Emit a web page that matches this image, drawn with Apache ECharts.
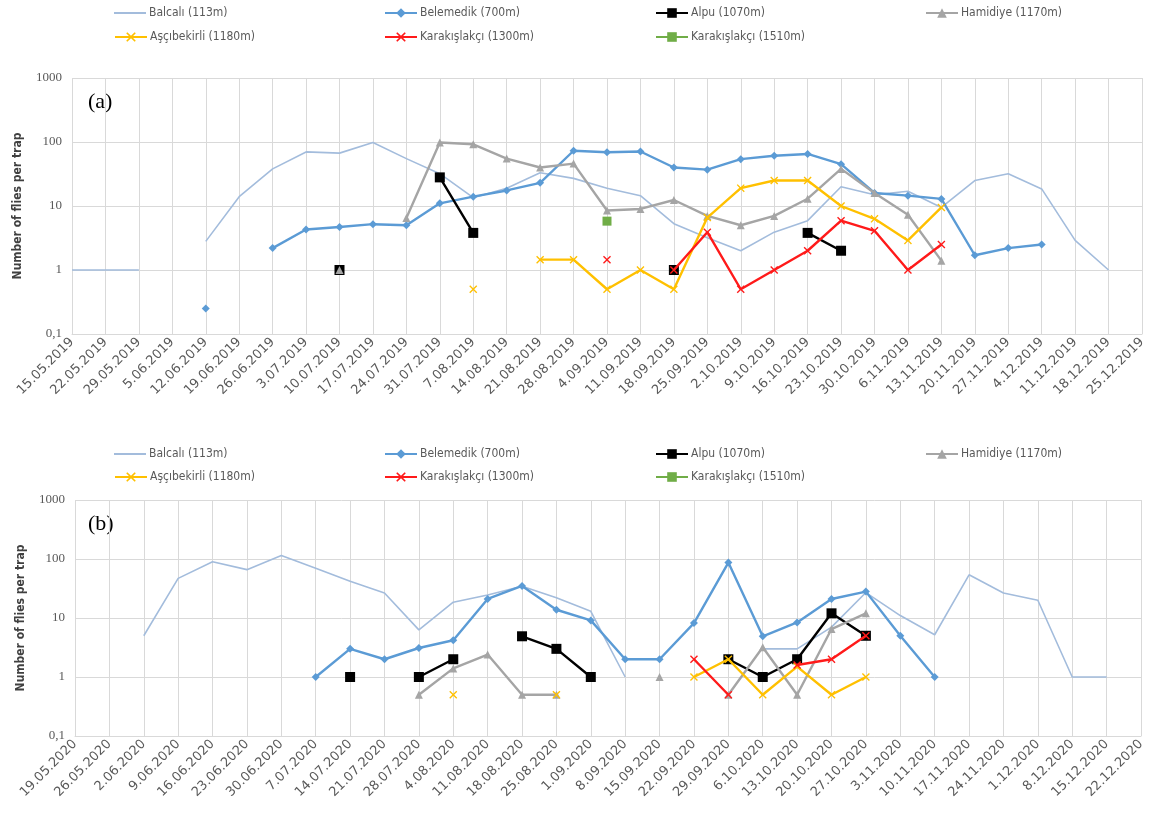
<!DOCTYPE html>
<html>
<head>
<meta charset="utf-8">
<script src="https://cdn.jsdelivr.net/npm/echarts@6/dist/echarts.min.js"></script>
<style>
html,body{margin:0;padding:0;background:#fff;}
#chart{width:1150px;height:814px;}
</style>
</head>
<body>
<div id="chart"></div>
<script>
// ---------- categories ----------
const dates2019 = ['15.05.2019','22.05.2019','29.05.2019','5.06.2019','12.06.2019','19.06.2019','26.06.2019','3.07.2019','10.07.2019','17.07.2019','24.07.2019','31.07.2019','7.08.2019','14.08.2019','21.08.2019','28.08.2019','4.09.2019','11.09.2019','18.09.2019','25.09.2019','2.10.2019','9.10.2019','16.10.2019','23.10.2019','30.10.2019','6.11.2019','13.11.2019','20.11.2019','27.11.2019','4.12.2019','11.12.2019','18.12.2019','25.12.2019'];
const dates2020 = ['19.05.2020','26.05.2020','2.06.2020','9.06.2020','16.06.2020','23.06.2020','30.06.2020','7.07.2020','14.07.2020','21.07.2020','28.07.2020','4.08.2020','11.08.2020','18.08.2020','25.08.2020','1.09.2020','8.09.2020','15.09.2020','22.09.2020','29.09.2020','6.10.2020','13.10.2020','20.10.2020','27.10.2020','3.11.2020','10.11.2020','17.11.2020','24.11.2020','1.12.2020','8.12.2020','15.12.2020','22.12.2020'];

// ---------- series names ----------
const seriesNames = ['Balcalı (113m)','Belemedik (700m)','Alpu (1070m)','Hamidiye (1170m)','Aşçıbekirli (1180m)','Karakışlakçı (1300m)','Karakışlakçı (1510m)'];

// ---------- 2019 values (panel a) ----------
const balcali2019 = [1,1,1,null,2.8,14,38,70,67,98,55,32,13.5,19,33,27,19,14.5,5.3,3.2,2,3.9,5.9,20,15,17,9.5,25,32,18.5,2.9,1,null];
const belemedik2019 = [null,null,null,null,0.25,null,2.2,4.3,4.7,5.2,5,11,14,17.5,23,73,69,71,40,37,54,61,65,45,16,14.5,12.9,1.7,2.2,2.5,null,null,null];
const alpu2019 = [null,null,null,null,null,null,null,null,1,null,null,28,3.8,null,null,null,null,null,1,null,null,null,3.8,2,null,null,null,null,null,null,null,null,null];
const hamidiye2019 = [null,null,null,null,null,null,null,null,1,null,6.5,98,92,55,40,46,8.5,9,12.4,7,5,7,13,38,16,7.3,1.4,null,null,null,null,null,null];
const ascibekirli2019 = [null,null,null,null,null,null,null,null,null,null,null,null,0.5,null,1.45,1.45,0.5,1,0.5,6.6,19,25,25,10,6.3,2.9,9.5,null,null,null,null,null,null];
const karakislakci1300_2019 = [null,null,null,null,null,null,null,null,null,null,null,null,null,null,null,null,1.45,null,1,3.9,0.5,1,2,5.9,4.1,1,2.5,null,null,null,null,null,null];
const karakislakci1510_2019 = [null,null,null,null,null,null,null,null,null,null,null,null,null,null,null,null,5.8,null,null,null,null,null,null,null,null,null,null,null,null,null,null,null,null];

// ---------- 2020 values (panel b) ----------
const balcali2020 = [null,null,5,47,90,66,115,70,42,26.5,6.3,18.5,24.5,34.5,22,13,1,null,null,null,3,3,7,27,11,5.2,54,26.5,20,1,1,null];
const belemedik2020 = [null,null,null,null,null,null,null,1,3,2,3.1,4.2,21,35,13.8,9.1,2,2,8.2,87,4.9,8.4,21,28,5,1,null,null,null,null,null,null];
const alpu2020 = [null,null,null,null,null,null,null,null,1,null,1,2,null,4.9,3,1,null,null,null,2,1,2,12,5,null,null,null,null,null,null,null,null];
const hamidiye2020 = [null,null,null,null,null,null,null,null,null,null,0.5,1.4,2.4,0.5,0.5,null,null,1,null,0.5,3.2,0.5,6.5,12,null,null,null,null,null,null,null,null];
const ascibekirli2020 = [null,null,null,null,null,null,null,null,null,null,null,0.5,null,null,0.5,null,null,null,1,2,0.5,1.5,0.5,1,null,null,null,null,null,null,null,null];
const karakislakci1300_2020 = [null,null,null,null,null,null,null,null,null,null,null,null,null,null,null,null,null,null,2,0.5,null,1.6,2,5,null,null,null,null,null,null,null,null];
const karakislakci1510_2020 = [null,null,null,null,null,null,null,null,null,null,null,null,null,null,null,null,null,null,null,null,null,null,null,null,null,null,null,null,null,null,null,null];

// ---------- y-axis ticks ----------
const yMin = 0.1, yMax = 1000;

// ---------- styles ----------
const xShape = 'path://M0,1.2 L1.2,0 L5,3.8 L8.8,0 L10,1.2 L6.2,5 L10,8.8 L8.8,10 L5,6.2 L1.2,10 L0,8.8 L3.8,5 Z';
const styles = [
  {color:'#A3BCDC', width:1.6, symbol:'none', size:0},
  {color:'#5B9BD5', width:2.4, symbol:'diamond', size:8},
  {color:'#000000', width:2.4, symbol:'rect', size:10},
  {color:'#A5A5A5', width:2.4, symbol:'triangle', size:8},
  {color:'#FFC000', width:2.4, symbol:xShape, size:8},
  {color:'#FF1A1A', width:2.4, symbol:xShape, size:8},
  {color:'#70AD47', width:2.4, symbol:'rect', size:9}
];
const data2019 = [balcali2019, belemedik2019, alpu2019, hamidiye2019, ascibekirli2019, karakislakci1300_2019, karakislakci1510_2019];
const data2020 = [balcali2020, belemedik2020, alpu2020, hamidiye2020, ascibekirli2020, karakislakci1300_2020, karakislakci1510_2020];

function makeSeries(i, data, ax) {
  const s = styles[i];
  return {
    type: 'line', name: seriesNames[i], data: data,
    xAxisIndex: ax, yAxisIndex: ax,
    connectNulls: false, showSymbol: s.symbol !== 'none', showAllSymbol: true,
    symbol: s.symbol, symbolSize: s.size,
    lineStyle: {color: s.color, width: s.width},
    itemStyle: {color: s.color},
    emphasis: {disabled: true},
    z: 2 + i
  };
}

const series = [];
data2019.forEach((d, i) => series.push(makeSeries(i, d, 0)));
data2020.forEach((d, i) => series.push(makeSeries(i, d, 1)));

// ---------- legends ----------
const colX = [114, 384, 655, 925];
function makeLegends(row1Y, row2Y) {
  const out = [];
  seriesNames.forEach((n, i) => {
    const col = i < 4 ? i : i - 4;
    const y = i < 4 ? row1Y : row2Y;
    const lineOnly = styles[i].symbol === 'none';
    out.push({
      data: [lineOnly ? {name: n, icon: 'rect'} : n],
      left: colX[col], top: y - 7, padding: 0,
      itemWidth: 32, itemHeight: lineOnly ? 2 : 12, itemGap: 4,
      textStyle: {fontFamily: "'Liberation Sans Narrow','DejaVu Sans Condensed',sans-serif", fontSize: 12, color: '#595959', padding: [0,0,0,-2]},
      selectedMode: false
    });
  });
  return out;
}

const gridColor = '#D9D9D9';
function xAxisOf(cats, gi) {
  return {
    type: 'category', gridIndex: gi, data: cats, boundaryGap: false,
    axisTick: {show: false},
    axisLine: {show: true, lineStyle: {color: gridColor}},
    splitLine: {show: true, interval: 0, lineStyle: {color: gridColor, width: 1}},
    axisLabel: {interval: 0, rotate: 45, fontSize: 13, color: '#595959', fontFamily: "'DejaVu Sans',sans-serif", margin: 6}
  };
}
function yAxisOf(gi) {
  return {
    type: 'log', logBase: 10, gridIndex: gi, min: yMin, max: yMax,
    axisLine: {show: false}, axisTick: {show: false},
    splitLine: {show: true, lineStyle: {color: gridColor, width: 1}},
    axisLabel: {fontSize: 13, color: '#595959', fontFamily: "'Liberation Serif',serif", margin: 10,
      formatter: v => String(+(+v).toPrecision(6)).replace('.', ',')},
    name: 'Number of flies per trap', nameLocation: 'middle', nameGap: 48, nameRotate: 90,
    nameTextStyle: {fontSize: 12, fontWeight: 'bold', color: '#404040', fontFamily: "'Liberation Sans Narrow','DejaVu Sans Condensed',sans-serif"}
  };
}

const chart = echarts.init(document.getElementById('chart'), null, {renderer: 'canvas'});
chart.setOption({
  animation: false,
  backgroundColor: '#ffffff',
  legend: makeLegends(14, 38).concat(makeLegends(455, 478)),
  grid: [
    {left: 72, right: 8, top: 78, height: 256},
    {left: 75, right: 9, top: 500, height: 236}
  ],
  xAxis: [xAxisOf(dates2019, 0), xAxisOf(dates2020, 1)],
  yAxis: [yAxisOf(0), yAxisOf(1)],
  graphic: [
    {type: 'text', left: 88, top: 91, style: {text: '(a)', font: "22px 'Liberation Serif', serif", fill: '#000'}},
    {type: 'text', left: 88, top: 513, style: {text: '(b)', font: "22px 'Liberation Serif', serif", fill: '#000'}}
  ],
  series: series
});
</script>
</body>
</html>
